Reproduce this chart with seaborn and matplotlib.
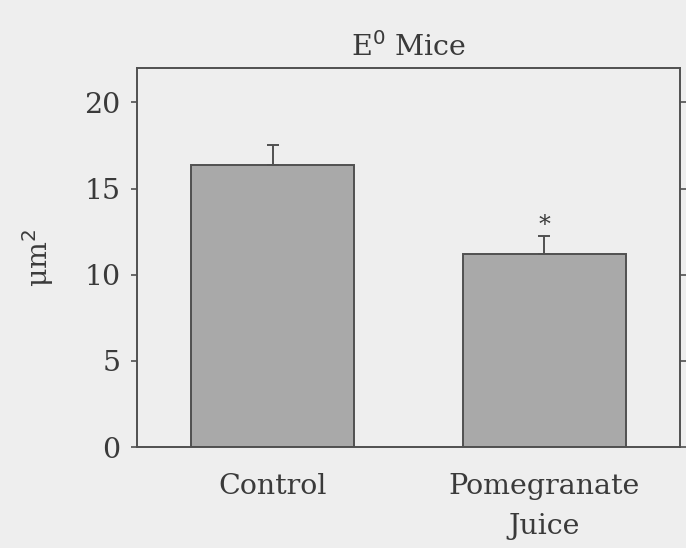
import matplotlib
matplotlib.use("Agg")
import matplotlib.pyplot as plt
import seaborn as sns

categories = ["Control", "Pomegranate\nJuice"]
values = [16.35, 11.2]
errors = [1.2, 1.05]
significant = [False, True]

sns.set_style("white")
plt.rcParams['font.family'] = ['DejaVu Serif']

bg = "#eeeeee"
ink = "#3a3a3a"

fig = plt.figure(figsize=(6.86, 5.48), dpi=100, facecolor=bg)
ax = fig.add_axes([137/686, 1 - 447/548, (680 - 137)/686, (447 - 68)/548])
ax.set_facecolor(bg)

sns.barplot(x=categories, y=values, color="#a9a9a9", edgecolor="#505050",
            linewidth=1.4, width=0.6, saturation=1, ax=ax, errorbar=None)

xs = list(range(len(categories)))
ax.errorbar(xs, values, yerr=[[0]*len(errors), errors], fmt="none",
            ecolor="#505050", elinewidth=1.4, capsize=4.5, capthick=1.4)
for x, v, e, s in zip(xs, values, errors, significant):
    if s:
        ax.text(x, v + e - 0.05, "*", ha="center", va="bottom", fontsize=17, color=ink)

ax.set_xlim(-0.5, 1.5)
ax.set_ylim(0, 22)
ax.set_yticks([0, 5, 10, 15, 20])
ax.tick_params(axis="y", which="both", left=True, right=True, direction="out",
               length=4, width=1.2, color="#505050", labelsize=20.5, labelcolor=ink, pad=8)
ax.tick_params(axis="x", length=0, labelsize=20.5, labelcolor=ink, pad=19)
for lbl in ax.get_xticklabels():
    lbl.set_linespacing(1.6)

for sp in ax.spines.values():
    sp.set_visible(True)
    sp.set_color("#505050")
    sp.set_linewidth(1.4)

ax.set_ylabel("μm$^2$", fontsize=20.5, color=ink)
ax.yaxis.set_label_coords(-0.15, 0.5)
ax.set_title("E$^0$ Mice", fontsize=20.5, color=ink, pad=9)

fig.savefig("out.png", dpi=100, facecolor=bg)
